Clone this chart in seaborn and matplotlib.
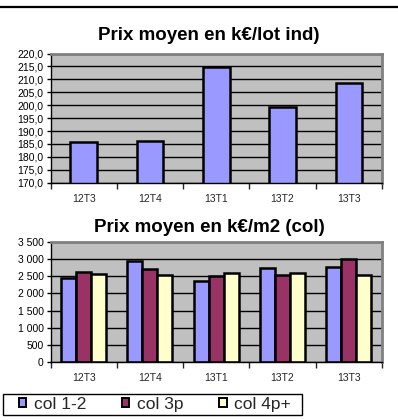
import matplotlib
matplotlib.use("Agg")
import matplotlib.pyplot as plt
from matplotlib.lines import Line2D
from matplotlib.patches import Patch, Rectangle
from matplotlib.ticker import FuncFormatter, FixedLocator
import seaborn as sns
import pandas as pd

sns.set_style("white")
plt.rcParams["font.family"] = ["Liberation Sans", "DejaVu Sans"]

# Quarters
quarters = ["12T3", "12T4", "13T1", "13T2", "13T3"]

# Average price per individual lot (k€)
prix_lot_ind = [185.8, 186.0, 214.7, 199.4, 208.5]

# Average price per m2 for collective housing, by type
series = ["col 1-2", "col 3p", "col 4p+"]
col_1_2 = [2460, 2940, 2360, 2735, 2790]
col_3p = [2630, 2720, 2510, 2550, 3020]
col_4p = [2560, 2530, 2600, 2600, 2530]

colors = ["#9999FF", "#993366", "#FFFFCC"]
bg = "#C0C0C0"

W, H = 398, 420
fig = plt.figure(figsize=(W / 100, H / 100), dpi=100)


def px_axes(left, top, right, bottom):
    return fig.add_axes([left / W, 1 - bottom / H, (right - left) / W, (bottom - top) / H])


def style_axes(ax, fmt):
    ax.set_facecolor(bg)
    ax.set_xlim(-0.5, len(quarters) - 0.5)
    ax.yaxis.grid(True, color="black", linewidth=1.0)
    ax.set_axisbelow(True)
    for side in ("top", "right"):
        ax.spines[side].set_color("#808080")
        ax.spines[side].set_linewidth(2.0)
    for side in ("left", "bottom"):
        ax.spines[side].set_color("black")
        ax.spines[side].set_linewidth(1.0)
    ax.yaxis.set_major_formatter(FuncFormatter(fmt))
    ax.tick_params(axis="y", which="major", direction="out", length=3, width=1,
                   labelsize=7.5, pad=2, left=True, colors="black")
    # category boundaries carry the tick marks, centres carry the labels
    ax.xaxis.set_major_locator(FixedLocator([i - 0.5 for i in range(len(quarters) + 1)]))
    ax.xaxis.set_minor_locator(FixedLocator(list(range(len(quarters)))))
    ax.set_xticklabels([], minor=False)
    ax.set_xticklabels(quarters, minor=True)
    ax.tick_params(axis="x", which="major", direction="out", length=4, width=1,
                   bottom=True, labelbottom=False)
    ax.tick_params(axis="x", which="minor", length=0, labelsize=7.5, pad=8)
    ax.set_xlabel("")
    ax.set_ylabel("")


# Separator line across the top
fig.add_artist(Line2D([0, 1], [1 - 7 / H, 1 - 7 / H], color="black", linewidth=1.6))

# Top chart: price per individual lot
ax1 = px_axes(50.5, 53.5, 382, 182.7)
df1 = pd.DataFrame({"trimestre": quarters, "prix": prix_lot_ind})
sns.barplot(data=df1, x="trimestre", y="prix", color=colors[0], saturation=1,
            edgecolor="black", linewidth=1.8, width=0.4, ax=ax1)
ax1.set_ylim(170, 220)
ax1.set_yticks([170 + 5 * i for i in range(11)])
style_axes(ax1, lambda v, p: f"{v:.1f}".replace(".", ","))
fig.text(209 / W, 1 - 36 / H, "Prix moyen en k€/lot ind)",
         ha="center", va="center", fontsize=13.5, fontweight="bold", color="black")

# Bottom chart: price per m2, collective housing
ax2 = px_axes(50.5, 242.3, 382, 361.7)
df2 = pd.DataFrame({
    "trimestre": quarters * 3,
    "type": [s for s in series for _ in quarters],
    "prix": col_1_2 + col_3p + col_4p,
})
sns.barplot(data=df2, x="trimestre", y="prix", hue="type", hue_order=series,
            palette=colors, saturation=1, edgecolor="black", linewidth=1.8,
            width=0.68, ax=ax2, legend=False)
ax2.set_ylim(0, 3500)
ax2.set_yticks(list(range(0, 3501, 500)))
style_axes(ax2, lambda v, p: f"{int(v):,}".replace(",", " "))
fig.text(209 / W, 1 - 228 / H, "Prix moyen en k€/m2 (col)",
         ha="center", va="center", fontsize=13.5, fontweight="bold", color="black")

# Legend: framed box with the three series
fig.add_artist(Rectangle((3 / W, 1 - 415 / H), 299 / W, 21 / H, transform=fig.transFigure,
                         facecolor="white", edgecolor="black", linewidth=1.0))
handles = [Patch(facecolor=c, edgecolor="black", linewidth=1.4, label=s)
           for c, s in zip(colors, series)]
leg = fig.legend(handles=handles, loc="center left", bbox_to_anchor=(19 / W, 1 - 404.5 / H),
                 ncol=3, fontsize=12.5, frameon=False,
                 handlelength=0.42, handleheight=0.42, handletextpad=0.45,
                 columnspacing=2.05, borderpad=0, borderaxespad=0)

fig.savefig("out.png", dpi=100)
